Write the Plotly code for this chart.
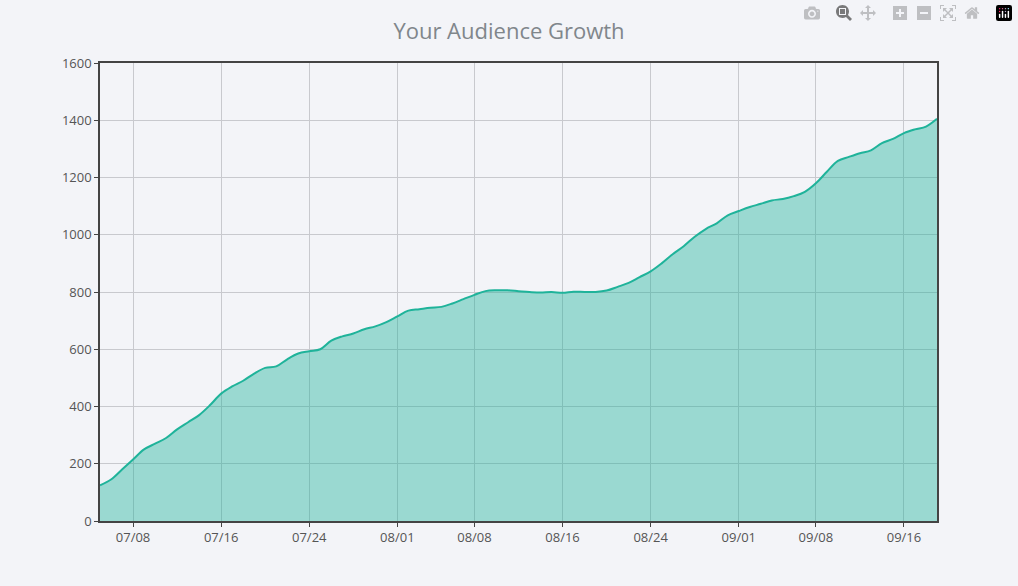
import plotly.graph_objects as go
import pandas as pd

# daily audience totals, 07/05 .. 09/19
start_day = "2023-07-05"
audience = [125, 145, 180, 215, 250, 270, 290, 320, 345, 370, 405, 445, 470, 490, 515, 535,
            540, 565, 585, 593, 600, 630, 645, 655, 670, 680, 695, 715, 735, 740, 745, 748,
            760, 775, 790, 803, 806, 806, 803, 800, 798, 800, 797, 801, 800, 800, 805, 818,
            832, 852, 872, 900, 932, 960, 993, 1020, 1040, 1068, 1083, 1097, 1108, 1120, 1125,
            1135, 1150, 1180, 1220, 1258, 1272, 1285, 1295, 1320, 1335, 1355, 1368, 1378, 1405]
days = pd.date_range(start_day, periods=len(audience), freq="D")

tick_days = ["2023-07-08", "2023-07-16", "2023-07-24", "2023-08-01", "2023-08-08",
             "2023-08-16", "2023-08-24", "2023-09-01", "2023-09-08", "2023-09-16"]
tick_text = ["07/08", "07/16", "07/24", "08/01", "08/08", "08/16", "08/24", "09/01", "09/08", "09/16"]

fig = go.Figure(go.Scatter(x=days, y=audience, mode="lines", fill="tozeroy",
                           line=dict(color="#1fb39a", width=2, shape="spline"),
                           fillcolor="rgba(31,179,154,0.42)"))

fig.update_layout(
    width=1018, height=586,
    title=dict(text="Your Audience Growth", x=0.5, y=0.96,
               font=dict(family="Open Sans", size=22, color="#80868b")),
    paper_bgcolor="#f3f4f8", plot_bgcolor="#f3f4f8",
    margin=dict(l=100, r=81, t=63, b=65),
    font=dict(family="Open Sans", size=13, color="#555"),
    showlegend=False,
)
fig.update_xaxes(range=[days[0], days[-1]], tickvals=tick_days, ticktext=tick_text,
                 gridcolor="#c8c9ce", showline=True, linecolor="#444", linewidth=1.5,
                 mirror=True, ticks="outside", ticklen=4, tickcolor="#444")
fig.update_yaxes(range=[0, 1600], dtick=200, gridcolor="#c8c9ce", showline=True,
                 linecolor="#444", linewidth=1.5, mirror=True, ticks="outside",
                 ticklen=4, tickcolor="#444", zeroline=False)

fig.write_html("out.html",
               post_script="document.body.style.margin='0';document.body.style.background='#f3f4f8';")
